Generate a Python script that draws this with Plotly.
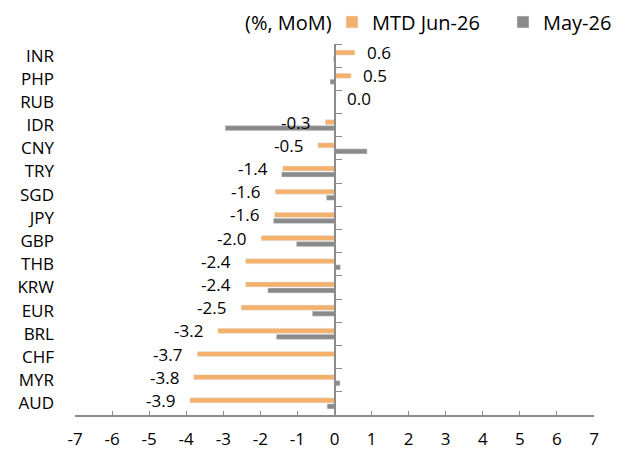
import plotly.graph_objects as go

categories = ["INR", "PHP", "RUB", "IDR", "CNY", "TRY", "SGD", "JPY",
              "GBP", "THB", "KRW", "EUR", "BRL", "CHF", "MYR", "AUD"]
mtd_jun26 = [0.55, 0.45, 0.0, -0.25, -0.45, -1.4, -1.6, -1.62,
             -1.98, -2.4, -2.4, -2.52, -3.15, -3.7, -3.8, -3.9]
mtd_labels = ["0.6", "0.5", "0.0", "-0.3", "-0.5", "-1.4", "-1.6", "-1.6",
              "-2.0", "-2.4", "-2.4", "-2.5", "-3.2", "-3.7", "-3.8", "-3.9"]
may26 = [-0.03, -0.12, 0.0, -2.95, 0.88, -1.43, -0.22, -1.65,
         -1.03, 0.16, -1.8, -0.6, -1.57, 0.0, 0.15, -0.2]
x_ticks = list(range(-7, 8))

ORANGE = "#F4B16B"
GREY = "#8A8A8A"
AXIS = "#8C8C8C"
FONT = "Open Sans"
W, H = 618, 444
ML, MR, MT, MB = 67, 32, 36, 37
PW, PH = W - ML - MR, H - MT - MB

fig = go.Figure()
fig.add_trace(go.Bar(y=categories, x=mtd_jun26, orientation="h", name="MTD Jun-26",
                     marker_color=ORANGE, hoverinfo="skip"))
fig.add_trace(go.Bar(y=categories, x=may26, orientation="h", name="May-26",
                     marker_color=GREY, hoverinfo="skip"))
# helper trace for the category axis drawn at x = 0
fig.add_trace(go.Scatter(y=categories, x=[0] * len(categories), yaxis="y2", mode="markers",
                         marker=dict(opacity=0), showlegend=False, hoverinfo="skip"))

for cat, v, lab in zip(categories, mtd_jun26, mtd_labels):
    neg = v < 0
    fig.add_annotation(x=v, y=cat, text=lab, showarrow=False,
                       xanchor="right" if neg else "left",
                       xshift=-13 if neg else 10, yshift=3,
                       font=dict(family=FONT, size=17, color="#000"))

# legend caption
fig.add_annotation(xref="paper", yref="paper", x=(235 - ML) / PW, y=1 + 22 / PH,
                   xanchor="left", yanchor="middle", text="(%, MoM)", showarrow=False,
                   font=dict(family=FONT, size=20, color="#000"))

yrange = [len(categories) - 0.5, -0.5]

fig.update_layout(
    width=W, height=H,
    margin=dict(l=ML, r=MR, t=MT, b=MB, autoexpand=False),
    paper_bgcolor="white", plot_bgcolor="white",
    barmode="group", bargap=0.48, bargroupgap=0.15,
    font=dict(family=FONT, size=17, color="#000"),
    showlegend=True,
    legend=dict(orientation="h", xref="paper", yref="paper",
                x=(324 - ML) / PW, xanchor="left", y=1 + 22 / PH, yanchor="middle",
                font=dict(family=FONT, size=20),
                entrywidth=126, entrywidthmode="pixels",
                traceorder="normal", bgcolor="rgba(0,0,0,0)"),
    xaxis=dict(range=[-7, 7], tickvals=x_ticks, ticktext=[str(t) for t in x_ticks],
               ticks="inside", ticklen=4, tickcolor=AXIS, showline=True, linecolor=AXIS,
               linewidth=1.5, showgrid=False, zeroline=False, ticklabelstandoff=8,
               tickfont=dict(family=FONT, size=17)),
    yaxis=dict(type="category", categoryorder="array", categoryarray=categories,
               range=yrange, autorange=False, showline=False, ticks="", showgrid=False,
               ticklabelstandoff=20, tickfont=dict(family=FONT, size=17)),
    yaxis2=dict(type="category", categoryorder="array", categoryarray=categories,
                range=yrange, autorange=False, overlaying="y", anchor="free", position=0.5,
                side="right", showticklabels=False, ticks="outside", ticklen=7,
                tickcolor=AXIS, tickson="boundaries", showline=True, linecolor=AXIS,
                linewidth=1.5, showgrid=False),
)

fig.write_html("out.html")
